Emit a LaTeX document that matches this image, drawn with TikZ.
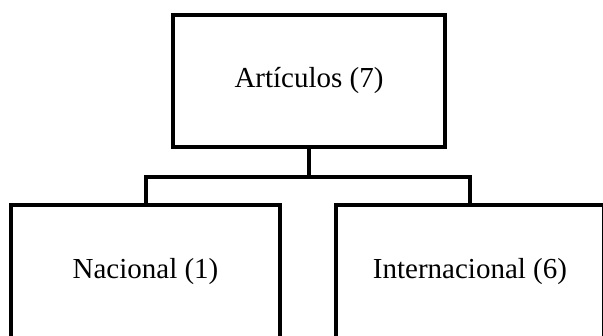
\documentclass[tikz,border=0pt]{standalone}
\usepackage{fontspec}
\setmainfont{Liberation Serif}
\begin{document}
\begin{tikzpicture}[x=1pt,y=-1pt,
  box/.style={draw=black, line width=4pt, rectangle, inner sep=0pt, font=\fontsize{29}{34}\selectfont},
  conn/.style={draw=black, line width=4pt}]
\useasboundingbox (0,0) rectangle (603,336);
\node[box, minimum width=272pt, minimum height=132pt] (top) at (309,81) {Artículos (7)};
\node[box, minimum width=269pt, minimum height=134pt] (nac) at (145.5,272) {Nacional (1)};
\node[box, minimum width=268pt, minimum height=134pt] (int) at (470,272) {Internacional (6)};
\coordinate (bar) at (309,177);
\draw[conn] (top.south) -- (bar);
\draw[conn] (nac.north) |- (bar) -| (int.north);
\end{tikzpicture}
\end{document}
